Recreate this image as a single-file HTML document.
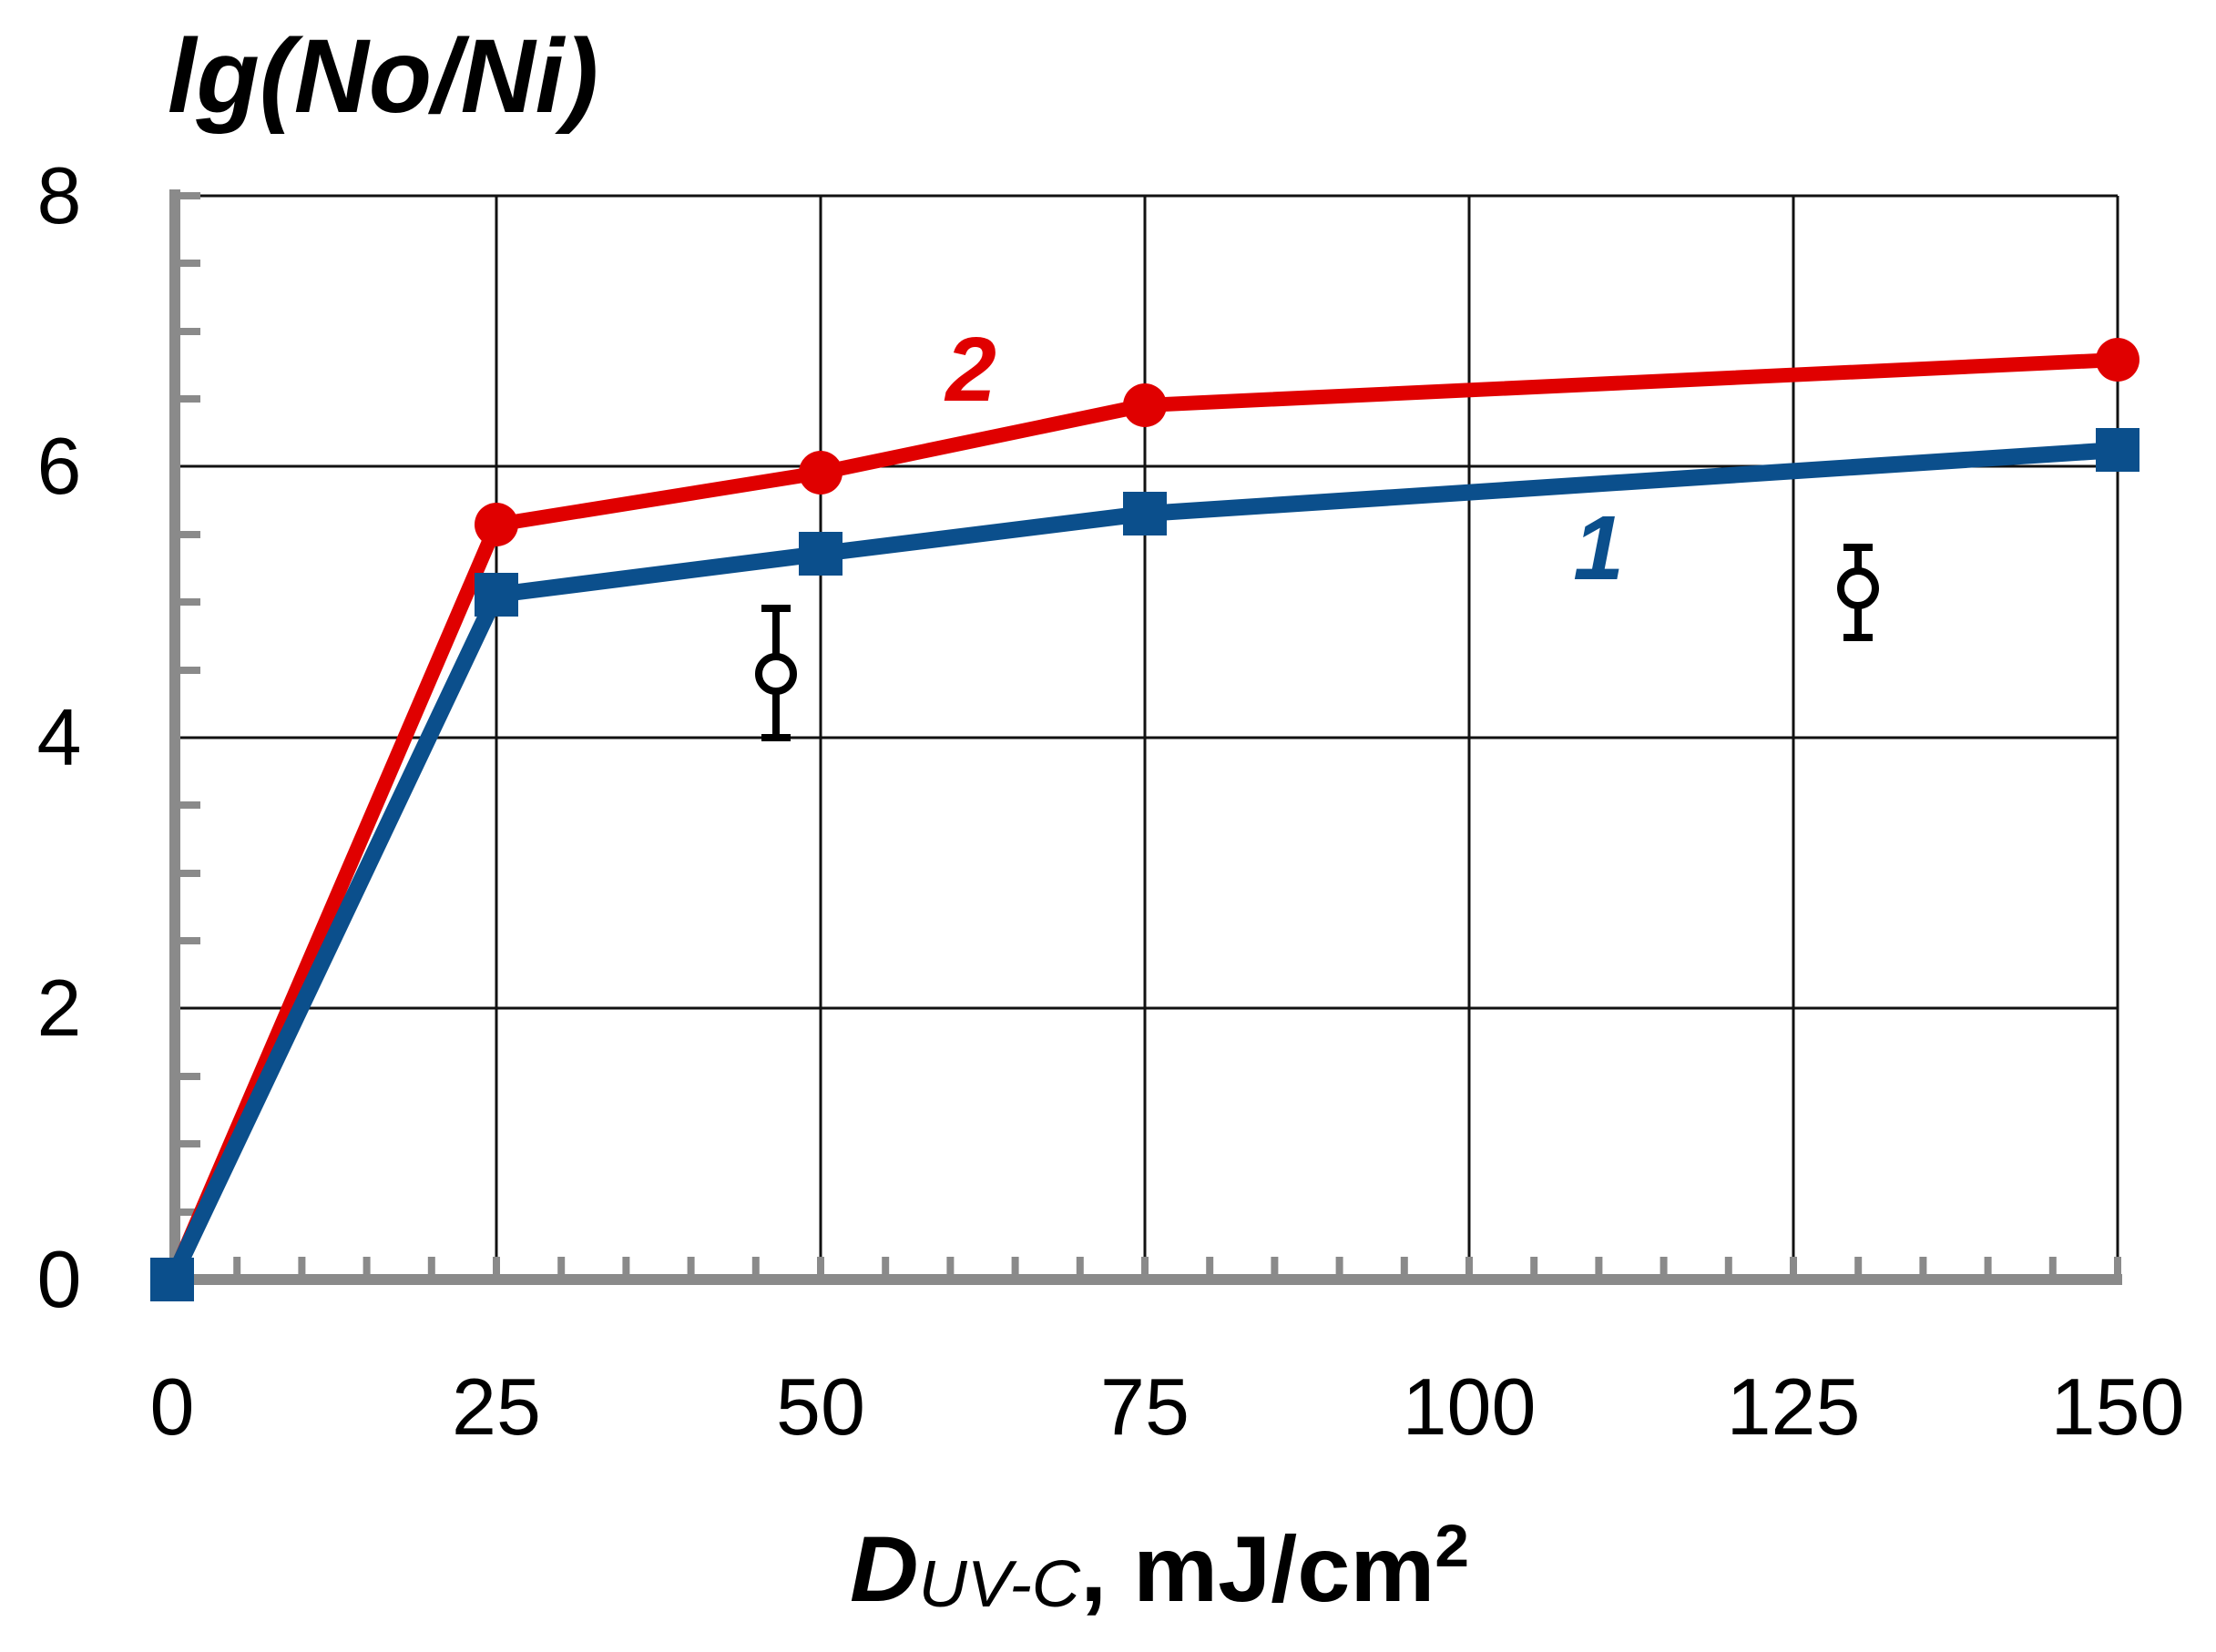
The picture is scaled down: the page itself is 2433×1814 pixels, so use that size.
<!DOCTYPE html>
<html><head><style>html,body{margin:0;padding:0;background:#fff}svg{display:block}</style></head>
<body>
<svg width="2433" height="1814" viewBox="0 0 2433 1814" xmlns="http://www.w3.org/2000/svg" font-family="Liberation Sans, sans-serif">
<rect width="2433" height="1814" fill="#fff"/>
<g stroke="#111" stroke-width="3">
<line x1="189" y1="215" x2="2325" y2="215"/>
<line x1="189" y1="512" x2="2325" y2="512"/>
<line x1="189" y1="810" x2="2325" y2="810"/>
<line x1="189" y1="1107" x2="2325" y2="1107"/>
<line x1="545" y1="215" x2="545" y2="1405"/>
<line x1="901" y1="215" x2="901" y2="1405"/>
<line x1="1257" y1="215" x2="1257" y2="1405"/>
<line x1="1613" y1="215" x2="1613" y2="1405"/>
<line x1="1969" y1="215" x2="1969" y2="1405"/>
<line x1="2325" y1="215" x2="2325" y2="1405"/>
</g>
<g stroke="#8a8a8a" stroke-width="12" fill="none">
<line x1="192" y1="208" x2="192" y2="1411"/>
<line x1="186" y1="1405" x2="2330" y2="1405"/>
</g>
<g stroke="#8a8a8a" stroke-width="8">
<line x1="192" y1="215" x2="220" y2="215"/>
<line x1="192" y1="289" x2="220" y2="289"/>
<line x1="192" y1="364" x2="220" y2="364"/>
<line x1="192" y1="438" x2="220" y2="438"/>
<line x1="192" y1="587" x2="220" y2="587"/>
<line x1="192" y1="661" x2="220" y2="661"/>
<line x1="192" y1="736" x2="220" y2="736"/>
<line x1="192" y1="884" x2="220" y2="884"/>
<line x1="192" y1="959" x2="220" y2="959"/>
<line x1="192" y1="1033" x2="220" y2="1033"/>
<line x1="192" y1="1182" x2="220" y2="1182"/>
<line x1="192" y1="1256" x2="220" y2="1256"/>
<line x1="192" y1="1331" x2="220" y2="1331"/>
</g>
<g stroke="#8a8a8a" stroke-width="8" id="xt"></g>
<script>
var g=document.getElementById('xt');
for(var i=1;i<=30;i++){var x=189+i*71.2;var l=document.createElementNS('http://www.w3.org/2000/svg','line');l.setAttribute('x1',x);l.setAttribute('x2',x);l.setAttribute('y1',1405);l.setAttribute('y2',1380);g.appendChild(l);}
</script>
<polyline points="189,1405 545,576 901,519 1257,445 2325,395" fill="none" stroke="#e00000" stroke-width="16" stroke-linejoin="round"/>
<g fill="#e00000">
<circle cx="545" cy="576" r="24"/><circle cx="901" cy="519" r="24"/><circle cx="1257" cy="445" r="24"/><circle cx="2325" cy="395" r="24"/>
</g>
<polyline points="189,1405 545,653 901,608 1257,564 2325,494" fill="none" stroke="#0b4f8c" stroke-width="18" stroke-linejoin="round"/>
<g fill="#0b4f8c">
<rect x="165" y="1381" width="48" height="48"/>
<rect x="521" y="629" width="48" height="48"/>
<rect x="877" y="584" width="48" height="48"/>
<rect x="1233" y="540" width="48" height="48"/>
<rect x="2301" y="470" width="48" height="48"/>
</g>
<g stroke="#000" stroke-width="8" fill="#fff">
<line x1="852" y1="668" x2="852" y2="810"/>
<line x1="836" y1="668" x2="868" y2="668"/>
<line x1="836" y1="810" x2="868" y2="810"/>
<circle cx="852" cy="740" r="19"/>
<line x1="2040" y1="601" x2="2040" y2="700"/>
<line x1="2024" y1="601" x2="2056" y2="601"/>
<line x1="2024" y1="700" x2="2056" y2="700"/>
<circle cx="2040" cy="646" r="19"/>
</g>
<text x="1066" y="440" font-size="100" font-style="italic" font-weight="bold" fill="#e00000" text-anchor="middle">2</text>
<text x="1755" y="636" font-size="100" font-style="italic" font-weight="bold" fill="#0b4f8c" text-anchor="middle">1</text>
<g font-size="88" fill="#000" text-anchor="middle">
<text x="65" y="245">8</text>
<text x="65" y="542">6</text>
<text x="65" y="840">4</text>
<text x="65" y="1137">2</text>
<text x="65" y="1435">0</text>
<text x="189" y="1575">0</text>
<text x="545" y="1575">25</text>
<text x="901" y="1575">50</text>
<text x="1257" y="1575">75</text>
<text x="1613" y="1575">100</text>
<text x="1969" y="1575">125</text>
<text x="2325" y="1575">150</text>
</g>
<text x="184" y="123" font-size="115" font-weight="bold" font-style="italic" fill="#000" textLength="473" lengthAdjust="spacingAndGlyphs">lg(No/Ni)</text>
<text x="933" y="1758" font-size="102" font-weight="bold" fill="#000" textLength="680" lengthAdjust="spacingAndGlyphs"><tspan font-style="italic">D</tspan><tspan font-style="italic" font-weight="normal" font-size="72" dy="6">UV-C</tspan><tspan dy="-6">, mJ/cm</tspan><tspan font-size="66" dy="-38">2</tspan></text>
</svg>
</body></html>
